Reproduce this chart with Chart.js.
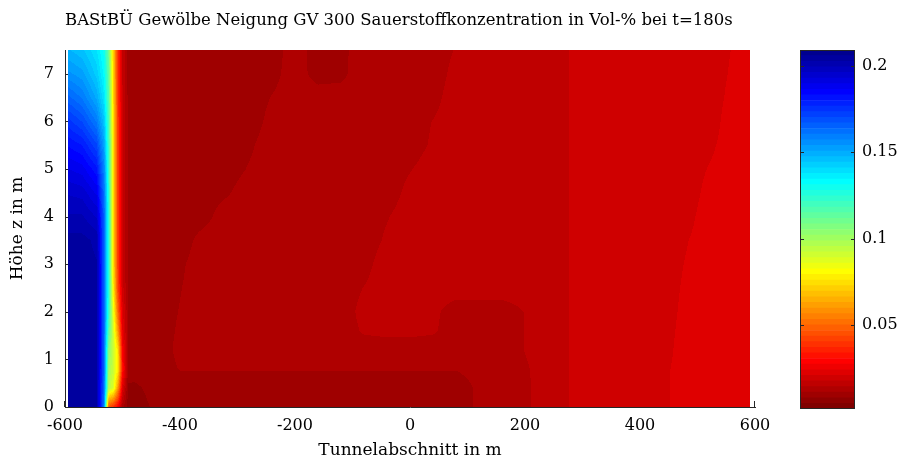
<!DOCTYPE html>
<html lang="de">
<head>
<meta charset="UTF-8">
<title>Sauerstoffkonzentration t=180s</title>
<script src="https://cdn.jsdelivr.net/npm/chart.js"></script>
<style>
  body { margin: 0; background: #fff; }
  #wrap { position: relative; width: 899px; height: 461px; }
  #wrap canvas { position: absolute; left: 0; top: 0; }
</style>
</head>
<body>
<div id="wrap">
  <canvas id="field" width="899" height="461"></canvas>
  <canvas id="scaleBar" width="899" height="461"></canvas>
</div>
<script>
const titleText = 'BAStBÜ Gewölbe Neigung GV 300 Sauerstoffkonzentration in Vol-% bei t=180s';
const xLabel = 'Tunnelabschnitt in m';
const yLabel = 'Höhe z in m';

// Stützstellen entlang der Tunnelachse (m)
const xNodes = [-595, -570, -545, -532, -524, -516, -508, -500, -490,
  -480, -440, -400, -360, -320, -280, -240, -200, -160, -120, -80, -40, 0, 40, 80,
  120, 160, 200, 240, 280, 320, 360, 400, 440, 480, 520, 560, 592];

// Höhen der Stützstellen (m)
const zNodes = [0, 0.4, 0.8, 1.2, 1.6, 2, 2.5, 3, 3.5, 4, 4.5, 5, 5.5, 6, 6.5, 7, 7.5];

// O2-Anteil, eine Zeile je Höhe (unten -> oben), Spalten wie xNodes
const o2 = [
  [.204,.204,.203,.160,.045,.038,.028,.012,.006,
   .0060,.0085,.0092,.0094,.0094,.0094,.0094,.0094,.0094,.0094,.0094,.0094,.0094,.0094,.0094,.0115,.0126,.0136,.0158,.0176,.0190,.0190,.0190,.0200,.0225,.0223,.0223,.0223],
  [.204,.204,.203,.162,.095,.088,.060,.022,.007,
   .0070,.0090,.0094,.0094,.0094,.0094,.0094,.0094,.0094,.0094,.0094,.0094,.0094,.0094,.0094,.0115,.0126,.0136,.0158,.0176,.0190,.0190,.0190,.0200,.0225,.0223,.0223,.0223],
  [.204,.204,.203,.165,.100,.092,.078,.032,.010,
   .0092,.0094,.0111,.0111,.0111,.0111,.0111,.0111,.0111,.0111,.0111,.0111,.0111,.0111,.0111,.0120,.0126,.0138,.0158,.0176,.0190,.0190,.0190,.0198,.0226,.0223,.0223,.0223],
  [.204,.204,.203,.165,.105,.092,.075,.028,.011,
   .0092,.0094,.0117,.0126,.0126,.0126,.0126,.0126,.0126,.0126,.0126,.0126,.0126,.0126,.0126,.0126,.0126,.0143,.0158,.0176,.0190,.0190,.0190,.0190,.0228,.0223,.0223,.0223],
  [.204,.204,.203,.165,.115,.090,.060,.024,.011,
   .0092,.0094,.0114,.0126,.0126,.0126,.0126,.0126,.0126,.0126,.0146,.0150,.0150,.0146,.0126,.0126,.0126,.0143,.0158,.0176,.0190,.0190,.0190,.0190,.0222,.0223,.0223,.0223],
  [.204,.204,.203,.165,.122,.085,.050,.022,.011,
   .0092,.0094,.0111,.0126,.0126,.0126,.0126,.0126,.0126,.0126,.0152,.0158,.0158,.0150,.0126,.0126,.0126,.0143,.0158,.0176,.0190,.0190,.0190,.0190,.0217,.0223,.0223,.0223],
  [.204,.204,.203,.165,.125,.078,.042,.019,.010,
   .0092,.0094,.0108,.0126,.0126,.0126,.0126,.0126,.0126,.0126,.0143,.0158,.0158,.0158,.0158,.0158,.0158,.0158,.0158,.0176,.0190,.0190,.0190,.0190,.0213,.0223,.0223,.0223],
  [.204,.204,.203,.165,.125,.075,.040,.018,.010,
   .0092,.0094,.0104,.0126,.0126,.0126,.0126,.0126,.0126,.0126,.0132,.0158,.0158,.0158,.0158,.0158,.0158,.0158,.0158,.0176,.0190,.0190,.0190,.0190,.0209,.0223,.0223,.0223],
  [.204,.204,.202,.165,.125,.075,.040,.018,.010,
   .0092,.0094,.0094,.0121,.0126,.0126,.0126,.0126,.0126,.0126,.0126,.0147,.0158,.0158,.0158,.0158,.0158,.0158,.0158,.0176,.0190,.0190,.0190,.0190,.0205,.0223,.0223,.0223],
  [.200,.200,.196,.165,.125,.075,.040,.018,.010,
   .0090,.0094,.0094,.0098,.0126,.0126,.0126,.0126,.0126,.0126,.0126,.0140,.0158,.0158,.0158,.0158,.0158,.0158,.0158,.0176,.0190,.0190,.0190,.0190,.0196,.0223,.0223,.0223],
  [.196,.195,.189,.162,.124,.075,.040,.018,.010,
   .0090,.0094,.0094,.0094,.0105,.0126,.0126,.0126,.0126,.0126,.0126,.0126,.0152,.0158,.0158,.0158,.0158,.0158,.0158,.0176,.0190,.0190,.0190,.0190,.0190,.0217,.0223,.0223],
  [.190,.188,.181,.158,.122,.075,.040,.018,.010,
   .0090,.0094,.0094,.0094,.0094,.0112,.0126,.0126,.0126,.0126,.0126,.0126,.0140,.0158,.0158,.0158,.0158,.0158,.0158,.0176,.0190,.0190,.0190,.0190,.0190,.0209,.0223,.0223],
  [.183,.180,.171,.152,.120,.075,.040,.018,.010,
   .0090,.0092,.0094,.0094,.0094,.0104,.0126,.0126,.0126,.0126,.0126,.0126,.0126,.0147,.0158,.0158,.0158,.0158,.0158,.0176,.0190,.0190,.0190,.0190,.0190,.0200,.0223,.0223],
  [.175,.170,.160,.145,.118,.075,.040,.018,.010,
   .0088,.0092,.0094,.0094,.0094,.0094,.0119,.0126,.0126,.0126,.0126,.0126,.0126,.0143,.0158,.0158,.0158,.0158,.0158,.0176,.0190,.0190,.0190,.0190,.0190,.0190,.0224,.0223],
  [.165,.160,.150,.138,.115,.074,.039,.018,.010,
   .0087,.0090,.0094,.0094,.0094,.0094,.0111,.0126,.0126,.0126,.0126,.0126,.0126,.0132,.0158,.0158,.0158,.0158,.0158,.0176,.0190,.0190,.0190,.0190,.0190,.0190,.0216,.0223],
  [.155,.152,.143,.133,.113,.073,.038,.017,.009,
   .0086,.0088,.0094,.0094,.0094,.0094,.0099,.0126,.0096,.0100,.0133,.0126,.0126,.0126,.0152,.0158,.0158,.0158,.0158,.0176,.0190,.0190,.0190,.0190,.0190,.0190,.0211,.0223],
  [.148,.145,.138,.130,.110,.072,.038,.017,.009,
   .0085,.0087,.0094,.0094,.0094,.0094,.0094,.0126,.0094,.0100,.0128,.0126,.0126,.0126,.0144,.0158,.0158,.0158,.0158,.0176,.0190,.0190,.0190,.0190,.0190,.0190,.0208,.0223]
];

const xTicks = [-600, -400, -200, 0, 200, 400, 600];
const zTicks = [0, 1, 2, 3, 4, 5, 6, 7];
const colorTicks = [0.05, 0.1, 0.15, 0.2];
const cMin = 0.0012;
const cMax = 0.2093;
const nColors = 64;

const axisColor = '#262626';
const serif = 'DejaVu Serif';

// jet with 64 steps, high values blue, low values red
function jetColor(v) {
  let k = Math.floor((v - cMin) / (cMax - cMin) * nColors);
  k = Math.max(0, Math.min(nColors - 1, k));
  const i = nColors - k;
  let r, g, b;
  if (i <= 8) { r = 0; g = 0; b = 0.5 + i / 16; }
  else if (i <= 24) { r = 0; g = (i - 8) / 16; b = 1; }
  else if (i <= 40) { r = (i - 24) / 16; g = 1; b = 1 - (i - 24) / 16; }
  else if (i <= 56) { r = 1; g = 1 - (i - 40) / 16; b = 0; }
  else { r = 1 - (i - 56) / 16; g = 0; b = 0; }
  return [Math.round(r * 255), Math.round(g * 255), Math.round(b * 255)];
}

function locate(nodes, v) {
  let i = 0;
  while (i < nodes.length - 2 && v > nodes[i + 1]) i++;
  const f = (v - nodes[i]) / (nodes[i + 1] - nodes[i]);
  return [i, Math.max(0, Math.min(1, f))];
}

// bilinear between the grid nodes (like shading interp)
function o2At(x, z) {
  const [i, fx] = locate(xNodes, x);
  const [j, fz] = locate(zNodes, z);
  const lo = o2[j][i] * (1 - fx) + o2[j][i + 1] * fx;
  const hi = o2[j + 1][i] * (1 - fx) + o2[j + 1][i + 1] * fx;
  return lo * (1 - fz) + hi * fz;
}

const fieldPlugin = {
  id: 'o2field',
  beforeDatasetsDraw(chart) {
    const { ctx, chartArea: area, scales: { x, y } } = chart;
    ctx.save();
    // inward ticks, the field is painted over them
    ctx.strokeStyle = axisColor;
    ctx.lineWidth = 1;
    ctx.beginPath();
    zTicks.forEach(t => {
      const py = Math.round(y.getPixelForValue(t)) + 0.5;
      ctx.moveTo(area.left, py);
      ctx.lineTo(area.left + 6, py);
    });
    xTicks.forEach(t => {
      const px = Math.round(x.getPixelForValue(t)) - 0.5;
      ctx.moveTo(px, area.bottom);
      ctx.lineTo(px, area.bottom - 6);
    });
    ctx.stroke();

    const x0 = Math.ceil(x.getPixelForValue(xNodes[0]));
    const x1 = Math.floor(x.getPixelForValue(xNodes[xNodes.length - 1]));
    const y0 = Math.round(y.getPixelForValue(zNodes[zNodes.length - 1]));
    const y1 = Math.round(y.getPixelForValue(zNodes[0]));
    const w = x1 - x0, h = y1 - y0;
    const off = document.createElement('canvas');
    off.width = w;
    off.height = h;
    const octx = off.getContext('2d');
    const img = octx.createImageData(w, h);
    for (let r = 0; r < h; r++) {
      const z = y.getValueForPixel(y0 + r + 0.5);
      for (let c = 0; c < w; c++) {
        const col = jetColor(o2At(x.getValueForPixel(x0 + c + 0.5), z));
        const p = (r * w + c) * 4;
        img.data[p] = col[0];
        img.data[p + 1] = col[1];
        img.data[p + 2] = col[2];
        img.data[p + 3] = 255;
      }
    }
    octx.putImageData(img, 0, 0);
    ctx.drawImage(off, x0, y0);
    ctx.restore();
  }
};

const tickFont = { family: serif, size: 16 };
const labelFont = { family: serif, size: 17 };

new Chart(document.getElementById('field'), {
  type: 'scatter',
  data: { datasets: [] },
  options: {
    responsive: false,
    animation: false,
    layout: { padding: { left: 0, right: 144, top: 0, bottom: 0 } },
    plugins: {
      legend: { display: false },
      tooltip: { enabled: false },
      title: {
        display: true,
        text: titleText,
        fullSize: false,
        align: 'start',
        color: '#000',
        font: { family: serif, size: 16.5, weight: 'normal' },
        padding: { top: 11, bottom: 19.2 }
      }
    },
    scales: {
      x: {
        type: 'linear',
        min: -600,
        max: 600,
        afterBuildTicks: s => { s.ticks = xTicks.map(v => ({ value: v })); },
        afterFit: s => { s.height = 54; },
        grid: { display: false, drawTicks: false },
        border: { display: true, color: axisColor, width: 1 },
        ticks: { color: '#000', font: tickFont, padding: 9, maxRotation: 0, autoSkip: false },
        title: { display: true, text: xLabel, color: '#000', font: labelFont, padding: { top: 0, bottom: 0 } }
      },
      y: {
        type: 'linear',
        min: 0,
        max: 7.5,
        afterBuildTicks: s => { s.ticks = zTicks.map(v => ({ value: v })); },
        afterFit: s => { s.width = 65; },
        grid: { display: false, drawTicks: false },
        border: { display: true, color: axisColor, width: 1 },
        ticks: { color: '#000', font: tickFont, padding: 11 },
        title: { display: true, text: yLabel, color: '#000', font: labelFont, padding: { top: 7, bottom: 0 } }
      }
    }
  },
  plugins: [fieldPlugin]
});

// colour bar: one floating bar per colour step
const step = (cMax - cMin) / nColors;
const barSets = Array.from({ length: nColors }, (_, k) => {
  const c = jetColor(cMin + (k + 0.5) * step);
  return {
    data: [[cMin + k * step, cMin + (k + 1) * step]],
    backgroundColor: `rgb(${c[0]},${c[1]},${c[2]})`,
    borderWidth: 0,
    grouped: false,
    barPercentage: 1,
    categoryPercentage: 1
  };
});

const barFrame = {
  id: 'barFrame',
  afterDatasetsDraw(chart) {
    const { ctx, chartArea: a, scales: { y } } = chart;
    ctx.save();
    ctx.strokeStyle = axisColor;
    ctx.lineWidth = 1;
    ctx.strokeRect(Math.round(a.left) + 0.5, Math.round(a.top) + 0.5,
      Math.round(a.right - a.left) - 1, Math.round(a.bottom - a.top) - 1);
    ctx.beginPath();
    colorTicks.forEach(t => {
      const py = Math.round(y.getPixelForValue(t)) + 0.5;
      ctx.moveTo(a.left, py);
      ctx.lineTo(a.left + 4, py);
      ctx.moveTo(a.right, py);
      ctx.lineTo(a.right - 4, py);
    });
    ctx.stroke();
    ctx.restore();
  }
};

new Chart(document.getElementById('scaleBar'), {
  type: 'bar',
  data: { labels: [''], datasets: barSets },
  options: {
    responsive: false,
    animation: false,
    layout: { padding: { left: 800, right: 0, top: 50, bottom: 52 } },
    plugins: { legend: { display: false }, tooltip: { enabled: false } },
    scales: {
      x: { display: false },
      y: {
        position: 'right',
        min: cMin,
        max: cMax,
        afterBuildTicks: s => { s.ticks = colorTicks.map(v => ({ value: v })); },
        afterFit: s => { s.width = 44; },
        grid: { display: false, drawTicks: false },
        border: { display: false },
        ticks: { color: '#000', font: tickFont, padding: 7, callback: v => String(v) }
      }
    }
  },
  plugins: [barFrame]
});
</script>
</body>
</html>
